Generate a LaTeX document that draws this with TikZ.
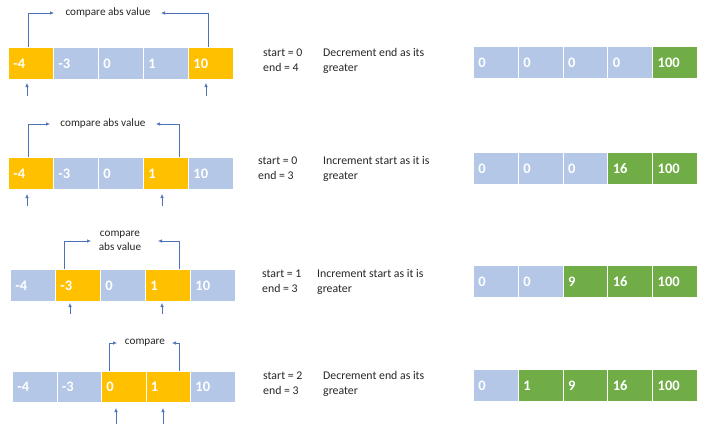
\documentclass[tikz,border=0pt]{standalone}
\usepackage{fontspec}
\setmainfont{Carlito}
\usetikzlibrary{arrows.meta}
\definecolor{cblue}{HTML}{B4C7E7}
\definecolor{corange}{HTML}{FFC000}
\definecolor{cgreen}{HTML}{70AD47}
\definecolor{arrc}{HTML}{4E72B8}
\definecolor{txt}{HTML}{262626}
\tikzset{
  cell/.style={draw=white, line width=0.9pt, anchor=north west, minimum height=32pt,
    text width=35pt, inner xsep=5pt, inner ysep=0pt, align=left, text=white,
    font=\fontsize{14.5}{16}\selectfont\bfseries},
  bl/.style={cell, fill=cblue},
  og/.style={cell, fill=corange},
  gr/.style={cell, fill=cgreen},
  arr/.style={draw=arrc, line width=0.6pt, -{Latex[length=4pt,width=3.4pt]}},
  lbl/.style={text=txt, font=\fontsize{11.2}{14}\selectfont, inner sep=0pt},
  info/.style={text=txt, font=\fontsize{11.8}{15}\selectfont, inner sep=0pt, align=left, anchor=west},
}
\begin{document}
\begin{tikzpicture}[x=1pt,y=-1pt]
\useasboundingbox (0,0) rectangle (721,431);
% ---------- Row 1 ----------
\node[og] (a1) at (8,47) {-4};
\node[bl] (a2) at (53,47) {-3};
\node[bl] (a3) at (98,47) {0};
\node[bl] (a4) at (143,47) {1};
\node[og] (a5) at (188,47) {10};
\node[lbl] (t1) at (108,13) {compare abs value};
\coordinate (t1l) at (54,13);
\coordinate (t1r) at (161,13);
\draw[arr] ([xshift=-3pt]a1.north) |- (t1l);
\draw[arr] ([xshift=-3pt]a5.north) |- (t1r);
\coordinate (p11) at (27,96);  \coordinate (q11) at (27,83);
\coordinate (p12) at (206,96); \coordinate (q12) at (206,83);
\draw[arr] (p11) -- (q11);
\draw[arr] (p12) -- (q12);
\node[info] (s1) at (263,60.5) {start = 0\\end = 4};
\node[info] (d1) at (323,60.5) {Decrement end as its\\greater};
\node[bl] (r11) at (473,46) {0};
\node[bl] (r12) at (517.8,46) {0};
\node[bl] (r13) at (562.6,46) {0};
\node[bl] (r14) at (607.4,46) {0};
\node[gr] (r15) at (652.2,46) {100};
% ---------- Row 2 ----------
\node[og] (b1) at (8,157) {-4};
\node[bl] (b2) at (53,157) {-3};
\node[bl] (b3) at (98,157) {0};
\node[og] (b4) at (143,157) {1};
\node[bl] (b5) at (188,157) {10};
\node[lbl] (t2) at (103,124) {compare abs value};
\coordinate (t2l) at (50,124);
\coordinate (t2r) at (156,124);
\draw[arr] ([xshift=-3pt]b1.north) |- (t2l);
\draw[arr] ([xshift=13pt]b4.north) |- (t2r);
\coordinate (p21) at (27,206);  \coordinate (q21) at (27,194);
\coordinate (p22) at (162,206); \coordinate (q22) at (162,194);
\draw[arr] (p21) -- (q21);
\draw[arr] (p22) -- (q22);
\node[info] (s2) at (258,168.5) {start = 0\\end = 3};
\node[info] (d2) at (323,168.5) {Increment start as it is\\greater};
\node[bl] (r21) at (473,152) {0};
\node[bl] (r22) at (517.8,152) {0};
\node[bl] (r23) at (562.6,152) {0};
\node[gr] (r24) at (607.4,152) {16};
\node[gr] (r25) at (652.2,152) {100};
% ---------- Row 3 ----------
\node[bl] (c1) at (10,269) {-4};
\node[og] (c2) at (55,269) {-3};
\node[bl] (c3) at (100,269) {0};
\node[og] (c4) at (145,269) {1};
\node[bl] (c5) at (190,269) {10};
\node[lbl, align=center] (t3) at (120,241) {compare\\abs value};
\coordinate (t3l) at (91,241);
\coordinate (t3r) at (158,241);
\draw[arr] ([xshift=-13.5pt]c2.north) |- (t3l);
\draw[arr] ([xshift=11.5pt]c4.north) |- (t3r);
\coordinate (p31) at (70,314);  \coordinate (q31) at (70,303);
\coordinate (p32) at (162,314); \coordinate (q32) at (162,303);
\draw[arr] (p31) -- (q31);
\draw[arr] (p32) -- (q32);
\node[info] (s3) at (262,281.5) {start = 1\\end = 3};
\node[info] (d3) at (317,281.5) {Increment start as it is\\greater};
\node[bl] (r31) at (473,265) {0};
\node[bl] (r32) at (517.8,265) {0};
\node[gr] (r33) at (562.6,265) {9};
\node[gr] (r34) at (607.4,265) {16};
\node[gr] (r35) at (652.2,265) {100};
% ---------- Row 4 ----------
\node[bl, minimum height=31pt] (e1) at (12,371) {-4};
\node[bl, minimum height=31pt] (e2) at (56.5,371) {-3};
\node[og, minimum height=31pt] (e3) at (101,371) {0};
\node[og, minimum height=31pt] (e4) at (145.5,371) {1};
\node[bl, minimum height=31pt] (e5) at (190,371) {10};
\node[lbl] (t4) at (145,343) {compare};
\coordinate (t4l) at (117,343);
\coordinate (t4r) at (172,343);
\draw[arr] ([xshift=-15pt]e3.north) |- (t4l);
\draw[arr] ([xshift=11pt]e4.north) |- (t4r);
\coordinate (p41) at (116,424); \coordinate (q41) at (116,408);
\coordinate (p42) at (163,424); \coordinate (q42) at (163,408);
\draw[arr] (p41) -- (q41);
\draw[arr] (p42) -- (q42);
\node[info] (s4) at (263,383.5) {start = 2\\end = 3};
\node[info] (d4) at (323,383.5) {Decrement end as its\\greater};
\node[bl] (r41) at (473,369) {0};
\node[gr] (r42) at (517.8,369) {1};
\node[gr] (r43) at (562.6,369) {9};
\node[gr] (r44) at (607.4,369) {16};
\node[gr] (r45) at (652.2,369) {100};
\end{tikzpicture}
\end{document}
